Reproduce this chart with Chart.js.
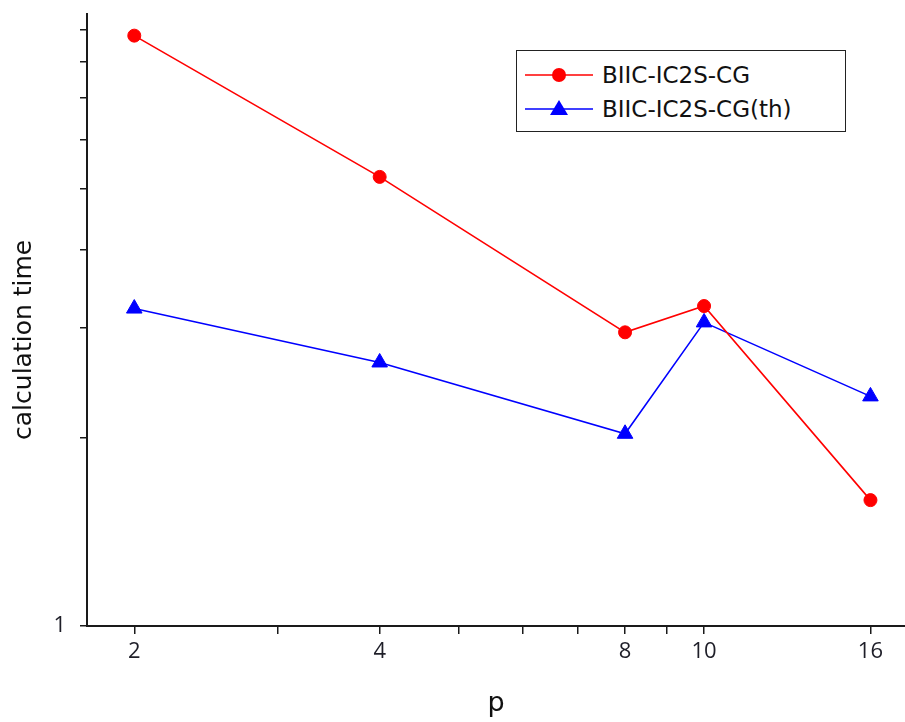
<!DOCTYPE html>
<html>
<head>
<meta charset="utf-8">
<script src="https://cdn.jsdelivr.net/npm/chart.js@4"></script>
<style>
    html, body { margin: 0; padding: 0; background: #fff; overflow: hidden; }
    #wrap { position: relative; width: 905px; height: 722px; }
    #chart { display: block; }
    #legend {
        position: absolute; left: 516px; top: 50px; width: 330px; height: 82px;
        box-sizing: border-box; border: 1.5px solid #222; background: #fff;
        font-family: 'DejaVu Sans', sans-serif; font-size: 23px; color: #111;
    }
    .row { position: absolute; left: 8px; height: 30px; display: flex; align-items: center; white-space: nowrap; }
    .row svg { margin-right: 9px; }
</style>
</head>
<body>
<div id="wrap">
    <canvas id="chart" width="905" height="722"></canvas>
    <div id="legend"></div>
</div>
<script>
const pValues   = [2, 4, 8, 10, 16];
const timeBiic  = [8.80, 5.23, 2.95, 3.25, 1.59];
const timeTheory = [3.22, 2.64, 2.03, 3.06, 2.33];

const xTickValues  = [2, 3, 4, 5, 6, 7, 8, 9, 10, 16];
const xTickLabels  = [2, 4, 8, 10, 16];
const yTickValues  = [1, 2, 3, 4, 5, 6, 7, 8, 9];
const yTickLabels  = [1];

const seriesNames  = ['BIIC-IC2S-CG', 'BIIC-IC2S-CG(th)'];
const RED  = '#ff0000';
const BLUE = '#0000ff';

const tickFont  = { family: "'Open Sans', sans-serif", size: 22 };
const axisColor = '#1a1a1a';

function toPoints(ys) {
    return pValues.map((x, i) => ({ x, y: ys[i] }));
}

// fixed axis sizes, no extra room for the outer tick labels
function fixSize(s, w, h) {
    if (w) s.width = w;
    if (h) s.height = h;
    s.paddingTop = s.paddingBottom = s.paddingLeft = s.paddingRight = 0;
}

new Chart(document.getElementById('chart'), {
    type: 'line',
    data: {
        datasets: [
            {
                label: seriesNames[0],
                data: toPoints(timeBiic),
                borderColor: RED,
                backgroundColor: RED,
                borderWidth: 1.6,
                pointStyle: 'circle',
                pointRadius: 6.5,
                pointBorderWidth: 1,
                tension: 0
            },
            {
                label: seriesNames[1],
                data: toPoints(timeTheory),
                borderColor: BLUE,
                backgroundColor: BLUE,
                borderWidth: 1.6,
                pointStyle: 'triangle',
                pointRadius: 9,
                pointBorderWidth: 1,
                tension: 0
            }
        ]
    },
    options: {
        responsive: false,
        animation: false,
        clip: false,
        layout: { autoPadding: false, padding: { top: 14, right: 0, left: 0, bottom: 0 } },
        plugins: {
            legend: { display: false },
            tooltip: { enabled: false }
        },
        scales: {
            x: {
                type: 'logarithmic',
                min: 1.75,
                max: 17.64,
                afterBuildTicks: s => { s.ticks = xTickValues.map(v => ({ value: v })); },
                afterFit: s => fixSize(s, 0, 96),
                border: { display: true, color: axisColor, width: 2 },
                grid: { drawOnChartArea: false, drawTicks: true, tickLength: 8, color: axisColor, lineWidth: 1.5 },
                ticks: {
                    autoSkip: false,
                    maxRotation: 0,
                    padding: 5,
                    color: '#1e1e28',
                    font: tickFont,
                    callback: v => xTickLabels.includes(v) ? String(v) : ''
                },
                title: {
                    display: true,
                    text: 'p',
                    color: '#111',
                    font: { family: "'DejaVu Sans', sans-serif", size: 27 },
                    padding: { top: 0, bottom: 2 }
                }
            },
            y: {
                type: 'logarithmic',
                min: 1,
                max: 9.53,
                afterBuildTicks: s => { s.ticks = yTickValues.map(v => ({ value: v })); },
                afterFit: s => fixSize(s, 87, 0),
                border: { display: true, color: axisColor, width: 2 },
                grid: { drawOnChartArea: false, drawTicks: true, tickLength: 7, color: axisColor, lineWidth: 1.5 },
                ticks: {
                    autoSkip: false,
                    padding: 14,
                    color: '#1e1e28',
                    font: tickFont,
                    callback: v => yTickLabels.includes(v) ? String(v) : ''
                },
                title: {
                    display: true,
                    text: 'calculation time     ',
                    color: '#111',
                    font: { family: "'DejaVu Sans', sans-serif", size: 25 },
                    padding: { top: 9, bottom: 0 }
                }
            }
        }
    }
});

// legend box drawn as HTML, placed inside the plot like the original
const legendEl = document.getElementById('legend');
const markers = [
    `<svg width="68" height="30"><line x1="0" y1="15" x2="68" y2="15" stroke="${RED}" stroke-width="1.6"/><circle cx="34" cy="15" r="7" fill="${RED}"/></svg>`,
    `<svg width="68" height="30"><line x1="0" y1="15" x2="68" y2="15" stroke="${BLUE}" stroke-width="1.6"/><polygon points="34,6 43,21 25,21" fill="${BLUE}"/></svg>`
];
seriesNames.forEach((name, i) => {
    const row = document.createElement('div');
    row.className = 'row';
    row.style.top = (i === 0 ? 9 : 43) + 'px';
    row.innerHTML = markers[i] + '<span>' + name + '</span>';
    legendEl.appendChild(row);
});
</script>
</body>
</html>
